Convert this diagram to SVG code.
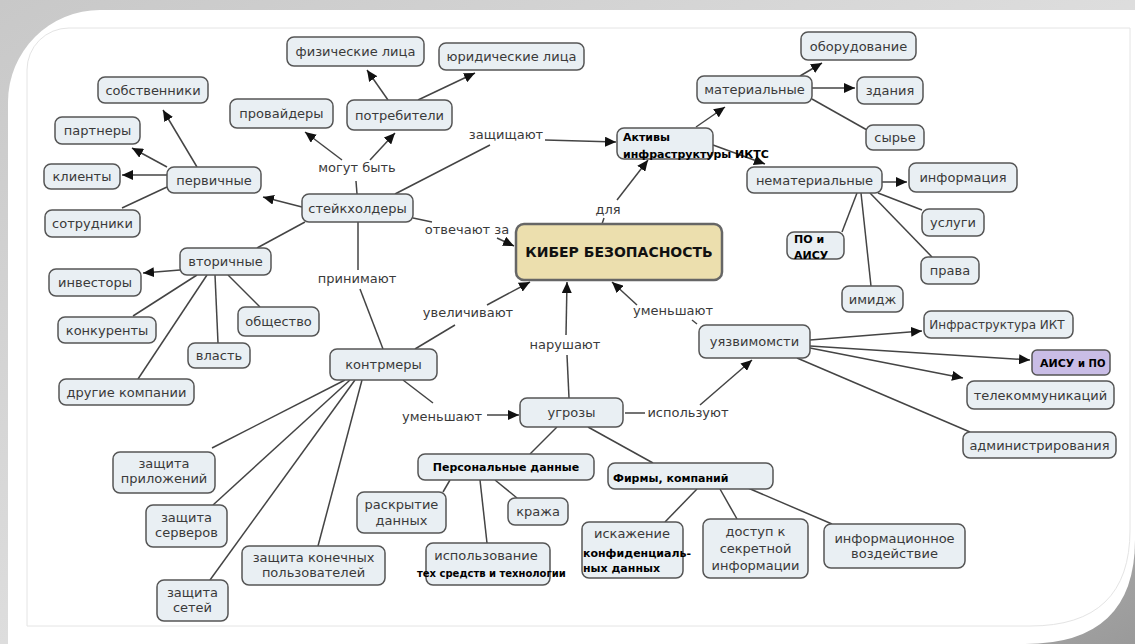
<svg xmlns="http://www.w3.org/2000/svg" width="1135" height="644" viewBox="0 0 1135 644">
<defs>
<linearGradient id="bg" x1="0" y1="0" x2="1" y2="1">
<stop offset="0" stop-color="#c4c4c4"/><stop offset="0.5" stop-color="#dcdcdc"/><stop offset="1" stop-color="#9a9a9a"/>
</linearGradient>
<linearGradient id="tl" x1="0" y1="0" x2="1" y2="1">
<stop offset="0" stop-color="#c8c8c8"/><stop offset="1" stop-color="#f2f2f2"/>
</linearGradient>
<marker id="ah" markerUnits="userSpaceOnUse" markerWidth="12" markerHeight="10" refX="11" refY="5" orient="auto">
<path d="M0,0 L11,5 L0,10 z" fill="#111"/>
</marker>
<style>
.n rect{fill:#e9eff3;stroke:#555;stroke-width:1.5}
.k rect{fill:#ecdfae;stroke:#666;stroke-width:2.5}
.p rect{fill:#c9bde6;stroke:#555;stroke-width:1.5}
text{font-family:"DejaVu Sans",Verdana,"Liberation Sans",sans-serif;font-size:13px;fill:#3a3a3a}
.m{text-anchor:middle}
.b{font-weight:bold;fill:#000;font-size:11px}
.l{fill:#444}
#connectors line,#connectors path{stroke:#444;stroke-width:1.5;fill:none}
.a{marker-end:url(#ah)}
</style>
</defs>
<g id="frame">
<rect x="0" y="0" width="1135" height="644" fill="url(#bg)"/>
<path d="M0,0 H1135 V10 H100 A92,92 0 0 0 8,102 V644 H0 Z" fill="url(#tl)"/>
<path d="M8,102 A92,92 0 0 1 100,10 H1135 V540 Q1135,644 1025,644 H8 Z" fill="#ffffff"/>
<path d="M27,70 A42,42 0 0 1 69,28 H1130 V530 Q1130,626 1030,626 H27 Z" fill="none" stroke="#e4e4e4" stroke-width="1"/>
</g>
<g id="connectors">
<line x1="357" y1="194" x2="356" y2="181"/>
<line class="a" x1="342" y1="160" x2="305" y2="132"/>
<line class="a" x1="370" y1="160" x2="395" y2="133"/>
<line class="a" x1="388" y1="100" x2="367" y2="70"/>
<line class="a" x1="418" y1="100" x2="475" y2="73"/>
<line class="a" x1="302" y1="207" x2="263" y2="197"/>
<line class="a" x1="197" y1="167" x2="163" y2="110"/>
<line class="a" x1="167" y1="167" x2="132" y2="148"/>
<line class="a" x1="167" y1="175" x2="122" y2="175"/>
<line x1="167" y1="187" x2="122" y2="208"/>
<line x1="305" y1="222" x2="257" y2="248"/>
<line class="a" x1="180" y1="270" x2="143" y2="273"/>
<line x1="197" y1="275" x2="133" y2="316"/>
<line x1="207" y1="275" x2="138" y2="379"/>
<line x1="215" y1="275" x2="218" y2="343"/>
<line x1="228" y1="275" x2="260" y2="307"/>
<line x1="358" y1="222" x2="358" y2="270"/>
<line x1="360" y1="289" x2="383" y2="349"/>
<line x1="395" y1="194" x2="490" y2="145"/>
<line class="a" x1="545" y1="140" x2="616" y2="142"/>
<line x1="413" y1="218" x2="432" y2="222"/>
<line class="a" x1="497" y1="238" x2="514" y2="246"/>
<line x1="602" y1="224" x2="604" y2="218"/>
<line class="a" x1="617" y1="200" x2="648" y2="160"/>
<line class="a" x1="696" y1="127" x2="725" y2="107"/>
<line class="a" x1="713" y1="145" x2="765" y2="164"/>
<line class="a" x1="800" y1="76" x2="822" y2="63"/>
<line class="a" x1="812" y1="88" x2="855" y2="88"/>
<line x1="812" y1="99" x2="867" y2="130"/>
<line class="a" x1="882" y1="182" x2="907" y2="182"/>
<line x1="878" y1="193" x2="922" y2="210"/>
<line x1="870" y1="193" x2="932" y2="257"/>
<line x1="861" y1="193" x2="871" y2="286"/>
<line x1="857" y1="193" x2="842" y2="232"/>
<line x1="415" y1="349" x2="455" y2="325"/>
<line class="a" x1="487" y1="305" x2="530" y2="282"/>
<line x1="569" y1="398" x2="567" y2="355"/>
<line class="a" x1="566" y1="335" x2="567" y2="282"/>
<line x1="697" y1="324" x2="692" y2="320"/>
<line class="a" x1="637" y1="305" x2="612" y2="282"/>
<line x1="403" y1="380" x2="433" y2="403"/>
<line class="a" x1="487" y1="415" x2="519" y2="415"/>
<line x1="625" y1="413" x2="645" y2="413"/>
<line class="a" x1="700" y1="405" x2="752" y2="360"/>
<line class="a" x1="810" y1="340" x2="922" y2="331"/>
<line class="a" x1="810" y1="346" x2="1030" y2="360"/>
<line class="a" x1="810" y1="348" x2="963" y2="378"/>
<line x1="797" y1="358" x2="970" y2="432"/>
<line x1="345" y1="380" x2="212" y2="448"/>
<line x1="350" y1="380" x2="213" y2="505"/>
<line x1="355" y1="380" x2="210" y2="580"/>
<line x1="362" y1="380" x2="318" y2="546"/>
<line x1="557" y1="427" x2="530" y2="454"/>
<line x1="588" y1="427" x2="653" y2="463"/>
<line x1="450" y1="480" x2="443" y2="492"/>
<line x1="480" y1="480" x2="487" y2="543"/>
<line x1="495" y1="480" x2="517" y2="498"/>
<line x1="697" y1="489" x2="665" y2="522"/>
<line x1="720" y1="489" x2="737" y2="519"/>
<line x1="748" y1="488" x2="832" y2="524"/>
</g>
<g id="link-labels" class="l">
<text class="m" x="357" y="172">могут быть</text>
<text class="m" x="506" y="139">защищают</text>
<text class="m" x="467" y="234">отвечают за</text>
<text class="m" x="608" y="214">для</text>
<text class="m" x="357" y="283">принимают</text>
<text class="m" x="468" y="317">увеличивают</text>
<text class="m" x="565" y="349">нарушают</text>
<text class="m" x="673" y="315">уменьшают</text>
<text class="m" x="442" y="421">уменьшают</text>
<text class="m" x="688" y="417">используют</text>
</g>
<g id="n-fiz" class="n"><rect x="287" y="37" width="137" height="29" rx="7"/><text class="m" x="355.5" y="56">физические лица</text></g>
<g id="n-yur" class="n"><rect x="439" y="43" width="145" height="27" rx="7"/><text class="m" x="511.5" y="61">юридические лица</text></g>
<g id="n-sobst" class="n"><rect x="98" y="77" width="110" height="26" rx="7"/><text class="m" x="153" y="94.5">собственники</text></g>
<g id="n-prov" class="n"><rect x="230" y="99" width="103" height="29" rx="7"/><text class="m" x="281.5" y="118">провайдеры</text></g>
<g id="n-potr" class="n"><rect x="347" y="100" width="105" height="30" rx="7"/><text class="m" x="399.5" y="119.5">потребители</text></g>
<g id="n-partn" class="n"><rect x="55" y="117" width="85" height="27" rx="7"/><text class="m" x="97.5" y="135">партнеры</text></g>
<g id="n-klient" class="n"><rect x="44" y="164" width="76" height="25" rx="7"/><text class="m" x="82" y="181">клиенты</text></g>
<g id="n-perv" class="n"><rect x="167" y="167" width="94" height="26" rx="7"/><text class="m" x="214" y="184.5">первичные</text></g>
<g id="n-stake" class="n"><rect x="302" y="194" width="111" height="28" rx="7"/><text class="m" x="357.5" y="212.5">стейкхолдеры</text></g>
<g id="n-sotr" class="n"><rect x="45" y="210" width="95" height="27" rx="7"/><text class="m" x="92.5" y="228">сотрудники</text></g>
<g id="n-vtor" class="n"><rect x="180" y="248" width="91" height="27" rx="7"/><text class="m" x="225.5" y="266">вторичные</text></g>
<g id="n-invest" class="n"><rect x="49" y="269" width="92" height="27" rx="7"/><text class="m" x="95" y="287">инвесторы</text></g>
<g id="n-konk" class="n"><rect x="58" y="317" width="98" height="26" rx="7"/><text class="m" x="107" y="334.5">конкуренты</text></g>
<g id="n-obsh" class="n"><rect x="238" y="307" width="81" height="29" rx="7"/><text class="m" x="278.5" y="326">общество</text></g>
<g id="n-vlast" class="n"><rect x="188" y="343" width="62" height="25" rx="7"/><text class="m" x="219" y="360">власть</text></g>
<g id="n-drug" class="n"><rect x="59" y="379" width="135" height="26" rx="7"/><text class="m" x="126.5" y="396.5">другие компании</text></g>
<g id="n-kontr" class="n"><rect x="330" y="349" width="107" height="31" rx="7"/><text class="m" x="383.5" y="369">контрмеры</text></g>
<g id="n-zpril" class="n"><rect x="113" y="452" width="102" height="41" rx="7"/><text class="m" x="164" y="467.5">защита</text><text class="m" x="164" y="482.5">приложений</text></g>
<g id="n-zserv" class="n"><rect x="146" y="505" width="81" height="42" rx="7"/><text class="m" x="186.5" y="521.5">защита</text><text class="m" x="186.5" y="536.5">серверов</text></g>
<g id="n-zset" class="n"><rect x="157" y="580" width="71" height="41" rx="7"/><text class="m" x="192.5" y="596.5">защита</text><text class="m" x="192.5" y="611.5">сетей</text></g>
<g id="n-zkon" class="n"><rect x="242" y="546" width="143" height="39" rx="7"/><text class="m" x="313.5" y="561.5">защита конечных</text><text class="m" x="313.5" y="576.5">пользователей</text></g>
<g id="n-aktiv" class="n"><rect x="617" y="128" width="96" height="31" rx="7"/><text class="b" x="623" y="141">Активы</text><text class="b" x="623" y="158">инфраструктуры ИКТС</text></g>
<g id="n-kiber" class="k"><rect x="516" y="224" width="206" height="56" rx="8"/><text class="m" x="619" y="257" style="font-weight:bold;font-size:14px;fill:#111">КИБЕР  БЕЗОПАСНОСТЬ</text></g>
<g id="n-mat" class="n"><rect x="697" y="76" width="115" height="27" rx="7"/><text class="m" x="754.5" y="94">материальные</text></g>
<g id="n-obor" class="n"><rect x="801" y="32" width="115" height="28" rx="7"/><text class="m" x="858.5" y="50.5">оборудование</text></g>
<g id="n-zdan" class="n"><rect x="857" y="77" width="66" height="27" rx="7"/><text class="m" x="890" y="95">здания</text></g>
<g id="n-syr" class="n"><rect x="866" y="125" width="58" height="25" rx="7"/><text class="m" x="895" y="142">сырье</text></g>
<g id="n-nemat" class="n"><rect x="747" y="167" width="135" height="26" rx="7"/><text class="m" x="814.5" y="184.5">нематериальные</text></g>
<g id="n-info" class="n"><rect x="909" y="163" width="108" height="29" rx="7"/><text class="m" x="963" y="182">информация</text></g>
<g id="n-usl" class="n"><rect x="922" y="209" width="62" height="27" rx="7"/><text class="m" x="953" y="227">услуги</text></g>
<g id="n-po" class="n"><rect x="787" y="232" width="57" height="27" rx="7"/><text class="b" x="794" y="243">ПО и</text><text class="b" x="794" y="259">АИСУ</text></g>
<g id="n-prava" class="n"><rect x="921" y="257" width="58" height="27" rx="7"/><text class="m" x="950" y="275">права</text></g>
<g id="n-imij" class="n"><rect x="842" y="286" width="61" height="26" rx="7"/><text class="m" x="872.5" y="303.5">имидж</text></g>
<g id="n-infikt" class="n"><rect x="924" y="311" width="149" height="27" rx="7"/><text class="m" x="997" y="328.5" style="font-size:12px">Инфраструктура ИКТ</text></g>
<g id="n-uyaz" class="n"><rect x="699" y="325" width="111" height="33" rx="7"/><text class="m" x="754.5" y="346">уязвимомсти</text></g>
<g id="n-aisu" class="p"><rect x="1032" y="350" width="78" height="25" rx="5"/><text class="b" x="1040" y="367">АИСУ <tspan style="font-size:10px">и ПО</tspan></text></g>
<g id="n-tele" class="n"><rect x="967" y="381" width="147" height="28" rx="7"/><text class="m" x="1040.5" y="399.5">телекоммуникаций</text></g>
<g id="n-admin" class="n"><rect x="963" y="432" width="153" height="26" rx="7"/><text class="m" x="1039.5" y="449.5">администрирования</text></g>
<g id="n-ugroz" class="n"><rect x="520" y="398" width="103" height="29" rx="7"/><text class="m" x="571.5" y="417">угрозы</text></g>
<g id="n-pd" class="n"><rect x="418" y="454" width="176" height="26" rx="7"/><text class="b m" x="506" y="471">Персональные данные</text></g>
<g id="n-firm" class="n"><rect x="608" y="463" width="165" height="26" rx="7"/><text class="b" x="613" y="482">Фирмы, компаний</text></g>
<g id="n-raskr" class="n"><rect x="357" y="492" width="89" height="41" rx="7"/><text class="m" x="401.5" y="508.5">раскрытие</text><text class="m" x="401.5" y="524.5">данных</text></g>
<g id="n-kraja" class="n"><rect x="508" y="498" width="60" height="27" rx="7"/><text class="m" x="538" y="516">кража</text></g>
<g id="n-isp" class="n"><rect x="426" y="543" width="124" height="42" rx="7"/><text class="m" x="486" y="559.5">использование</text><text class="b" x="417" y="577" style="font-size:10px">тех средств и технологии</text></g>
<g id="n-isk" class="n"><rect x="582" y="522" width="101" height="56" rx="7"/><text class="m" x="632" y="537.5">искажение</text><text class="b" x="583" y="557">конфиденциаль-</text><text class="b" x="583" y="572">ных данных</text></g>
<g id="n-dost" class="n"><rect x="703" y="519" width="105" height="59" rx="7"/><text class="m" x="755.5" y="535.5">доступ к</text><text class="m" x="755.5" y="552.5">секретной</text><text class="m" x="755.5" y="569.5">информации</text></g>
<g id="n-infvoz" class="n"><rect x="824" y="524" width="141" height="44" rx="7"/><text class="m" x="894.5" y="542.5">информационное</text><text class="m" x="894.5" y="557.5">воздействие</text></g>
</svg>
